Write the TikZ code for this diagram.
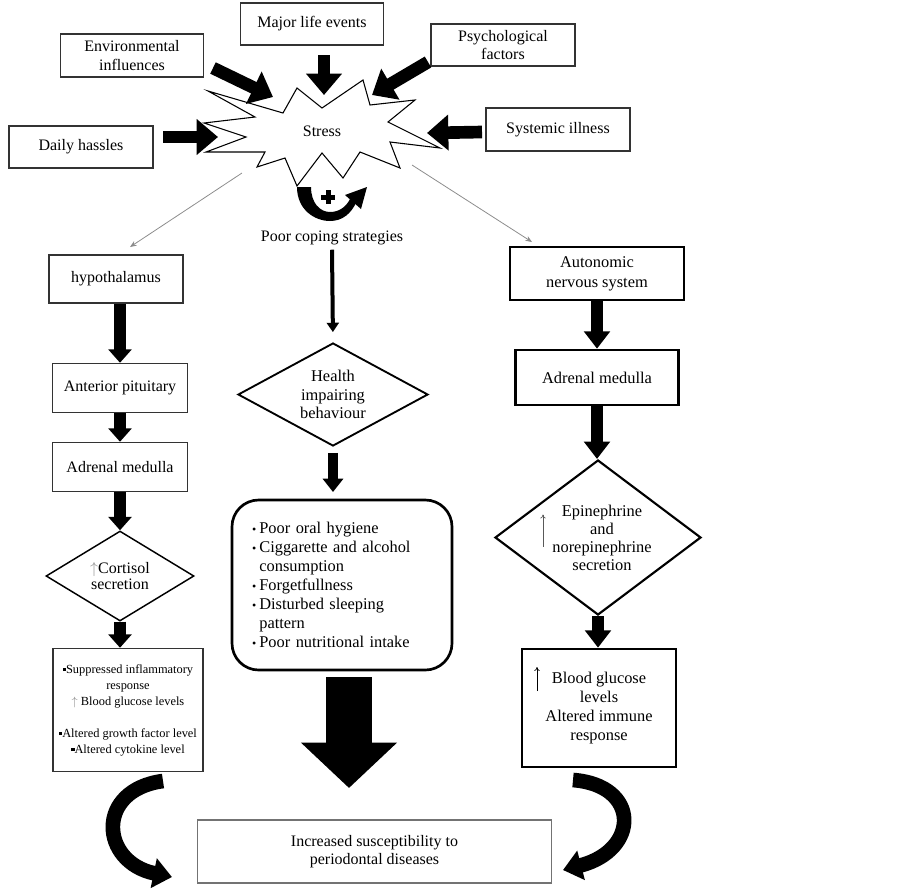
\documentclass[tikz,border=0pt]{standalone}
\usepackage{fontspec}
\setmainfont{Liberation Serif}
\usetikzlibrary{shapes.geometric,arrows.meta,positioning,calc}
\newcommand{\sqb}{\rule[1.5pt]{2.4pt}{2.4pt}}
\newcommand{\bul}{\makebox[5.5pt][l]{\raisebox{0.3pt}{\small\textbullet}}}
\tikzset{
  box/.style={draw=black!80,line width=1.1pt,inner sep=0pt,align=center,font=\fontsize{12}{14}\selectfont},
  boldbox/.style={box,draw=black,line width=2pt,font=\fontsize{12.3}{14.3}\selectfont},
  decision/.style={diamond,draw,line width=1.4pt,inner sep=0pt,align=center,font=\fontsize{12.3}{14}\selectfont},
  toparrow/.style={line width=9.5pt,-{Triangle[width=26pt,length=16pt]}},
  colarrow/.style={line width=8.5pt,-{Triangle[width=17pt,length=10pt]}},
  ansarrow/.style={line width=8.5pt,-{Triangle[width=19pt,length=13pt]}},
  curvearrow/.style={line width=11pt,-{Triangle[width=22pt,length=14pt]}},
  greyarrow/.style={draw=black!45,line width=0.6pt,-{Stealth[length=5pt,width=4pt]}},
  uparr/.style={draw=black!65,line width=0.5pt,-{To[length=3pt,width=4pt]}}
}
\begin{document}
\begin{tikzpicture}[x=0.75pt,y=-0.75pt]
\useasboundingbox (0,0) rectangle (902,890);
% stress burst
\draw[line width=0.8pt] (208,91) -- (283,113) -- (297,88) -- (322,108) -- (363,80) -- (370,105)
  -- (415,100) -- (388,122) -- (440,148) -- (390,142) -- (400,168) -- (360,152) -- (343,178)
  -- (322,153) -- (297,186) -- (285,158) -- (257,167) -- (265,152) -- (206,152) -- (246,137)
  -- (204,123) -- (255,117) -- cycle;
\node[font=\fontsize{12}{14}\selectfont] (stress) at (322,131) {Stress};
% causes
\node[box,minimum width=107pt,minimum height=31.5pt] (major) at (312,24) {Major life events};
\node[box,minimum width=107pt,minimum height=32.25pt] (env) at (132,55.5) {Environmental\\influences};
\node[box,minimum width=108pt,minimum height=31.5pt] (psych) at (503,45) {Psychological\\factors};
\node[box,minimum width=108pt,minimum height=31.5pt] (daily) at (81,147) {Daily hassles};
\node[box,minimum width=108pt,minimum height=32.25pt] (systemic) at (558,129.5) {Systemic illness};
\coordinate (envA) at (213,68);  \coordinate (envB) at (273,97);
\coordinate (majA) at (324,55);  \coordinate (majB) at (324,95);
\coordinate (psyA) at (428,62);  \coordinate (psyB) at (372,95);
\coordinate (dayA) at (163,137); \coordinate (dayB) at (218,137);
\coordinate (sysA) at (482,132); \coordinate (sysB) at (427,133);
\draw[toparrow] (envA) -- (envB);
\draw[toparrow] (majA) -- (majB);
\draw[toparrow] (psyA) -- (psyB);
\draw[toparrow] (dayA) -- (dayB);
\draw[toparrow] (sysA) -- (sysB);
% positive feedback
\fill (297,187) .. controls (297,210) and (315,221) .. (330,221) .. controls (343,221) and (351,213) .. (356,203)
  -- (350,199) .. controls (346,207) and (339,212) .. (330,212) .. controls (320,212) and (311,203) .. (311,187) -- cycle;
\fill (345,195) -- (367,187) -- (361,209) -- cycle;
\fill (325.5,190) rectangle (330.5,204);
\fill (321,194.5) rectangle (335,199.5);
\node[font=\fontsize{12}{14}\selectfont] (coping) at (332,238) {Poor coping strategies};
% left branch
\coordinate (gl1) at (242,173); \coordinate (gl2) at (130,247);
\draw[greyarrow] (gl1) -- (gl2);
\node[box,line width=0.9pt,minimum width=100.5pt,minimum height=36pt] (hypo) at (116,279) {hypothalamus};
\node[box,minimum width=101.25pt,minimum height=36.75pt] (antpit) at (120,388) {Anterior pituitary};
\node[box,minimum width=101.25pt,minimum height=36.75pt] (adrL) at (120,467) {Adrenal medulla};
\node[decision,line width=1.1pt,shape aspect=1.6,minimum width=111pt,minimum height=67.5pt,
  font=\fontsize{12}{12.5}\selectfont] (cortisol) at (120,576) {\textcolor{black!45}{$\uparrow$}Cortisol\\secretion};
\node[box,minimum width=112.5pt,minimum height=92.25pt,font=\fontsize{9.3}{12}\selectfont] (effects) at (128,710)
  {\sqb Suppressed inflammatory\\response\\\textcolor{black!45}{$\uparrow$}\ Blood glucose levels\\[12pt]\sqb Altered growth factor level\\\sqb Altered cytokine level};
\draw[colarrow] (antpit.north |- hypo.south) -- (antpit.north);
\draw[colarrow] (antpit.south) -- (adrL.north);
\draw[colarrow] (adrL.south) -- (cortisol.north);
\draw[colarrow] (cortisol.south) -- (cortisol.south |- effects.north);
% middle branch
\node[decision,shape aspect=1.85,minimum width=142.5pt,minimum height=77.25pt] (health) at (333,394.5) {Health\\impairing\\behaviour};
\node[draw,line width=2pt,rounded corners=20pt,minimum width=165pt,minimum height=127.5pt,inner xsep=15pt,inner ysep=0pt,
  text width=135pt,align=left,font=\fontsize{12.3}{14.3}\selectfont] (habits) at (342,585)
  {\bul Poor oral hygiene\\
   \bul Ciggarette and alcohol\\
   \hspace*{5.5pt}consumption\\
   \bul Forgetfullness\\
   \bul Disturbed sleeping\\
   \hspace*{5.5pt}pattern\\
   \bul Poor nutritional intake};
\draw[line width=3pt,-{Triangle[width=9pt,length=7pt]},shorten >=7.5pt] (coping.south) -- (health.north);
\draw[line width=7.5pt,-{Triangle[width=15pt,length=10pt]},shorten <=4.5pt,shorten >=5pt] (health.south) -- (health.south |- habits.north);
\coordinate (bigtip) at (349,788);
\coordinate (bigtop) at ($(habits.south -| bigtip)+(0,6)$);
\draw[line width=34.5pt,-{Triangle[width=70pt,length=34pt]}] (bigtop) -- (bigtip);
% right branch
\coordinate (gr1) at (412,165); \coordinate (gr2) at (532,242);
\draw[greyarrow] (gr1) -- (gr2);
\node[boldbox,minimum width=130.5pt,minimum height=39.75pt,font=\fontsize{12.3}{15}\selectfont] (ans) at (597,273.5) {Autonomic\\nervous system};
\node[boldbox,minimum width=122.25pt,minimum height=41.25pt] (adrR) at (597,377.5) {Adrenal medulla};
\node[decision,line width=1.6pt,shape aspect=1.33,minimum width=154.5pt,minimum height=116.25pt,
  font=\fontsize{12.3}{13.5}\selectfont] (epi) at (598,537.5) {\hspace*{6pt}Epinephrine\\\hspace*{6pt}and\\\hspace*{6pt}norepinephrine\\\hspace*{6pt}secretion};
\node[boldbox,minimum width=115.5pt,minimum height=88.5pt] (glucose) at (599,708) {Blood glucose\\levels\\Altered immune\\response};
\draw[uparr] ($(epi.center)+(-55,9)$) -- ($(epi.center)+(-55,-23)$);
\draw[uparr,draw=black] ($(glucose.center)+(-62,-17)$) -- ($(glucose.center)+(-62,-41)$);
\draw[ansarrow] (ans.south) -- (adrR.north);
\draw[ansarrow] (adrR.south) -- (adrR.south |- epi.north);
\draw[ansarrow] (epi.south) -- (epi.south |- glucose.north);
% outcome
\node[box,draw=black!55,line width=0.8pt,minimum width=266pt,minimum height=47.25pt] (outcome) at (374.5,851.5) {Increased susceptibility to\\periodontal diseases};
\coordinate (lstart) at (163,781); \coordinate (lend) at (172,877);
\draw[curvearrow] (lstart) .. controls (95,790) and (100,862) .. (lend);
\coordinate (rstart) at (573,780); \coordinate (rend) at (563,870);
\draw[curvearrow] (rstart) .. controls (640,785) and (640,850) .. (rend);
\end{tikzpicture}
\end{document}
